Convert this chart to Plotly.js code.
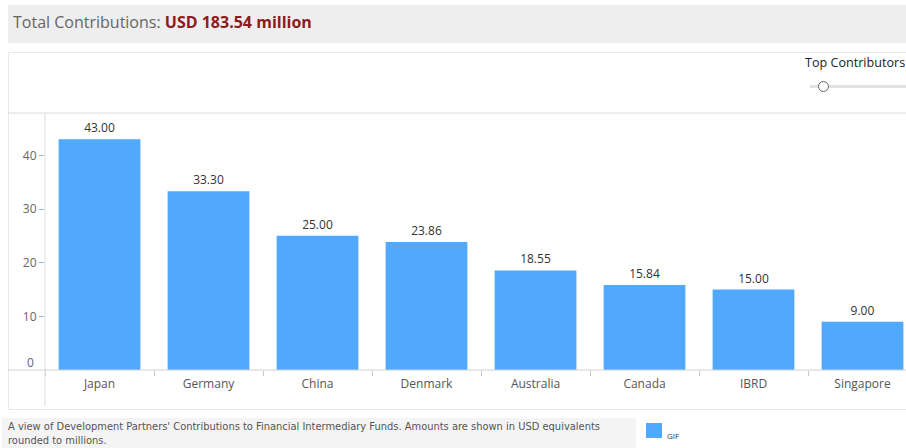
<!DOCTYPE html>
<html>
<head>
<meta charset="utf-8">
<script src="https://cdn.plot.ly/plotly-3.0.1.min.js"></script>
<style>
html,body{margin:0;padding:0;width:906px;height:448px;overflow:hidden;background:#fff;font-family:"Open Sans",sans-serif;}
#header{position:absolute;left:8px;top:5px;width:898px;height:38px;background:#eeeeee;}
#header span.t{position:absolute;left:5px;top:6px;font-size:16px;color:#666;white-space:nowrap;}
#header b{color:#8e1b1b;}
#panel{position:absolute;left:8px;top:52px;width:910px;height:358px;border:1px solid #e8e8e8;box-sizing:border-box;}
#chart{position:absolute;left:0;top:0;width:917px;height:448px;}
#slider-title{position:absolute;left:805px;top:54px;font-size:12.6px;color:#222;white-space:nowrap;}
#track{position:absolute;left:810px;top:85px;width:100px;height:3px;background:#e2e2e2;}
#knob{position:absolute;left:818px;top:81px;width:9px;height:9px;border:1.3px solid #666;border-radius:50%;background:#fff;}
#footer{position:absolute;left:2px;top:418px;width:634px;height:30px;background:#f4f4f4;}
#footer div{position:absolute;left:6px;top:2px;font-family:"Liberation Sans Narrow","DejaVu Sans Condensed",sans-serif;font-size:11px;line-height:14px;color:#555;width:640px;}
#legbox{position:absolute;left:646px;top:423px;width:16px;height:15px;background:#50a9fc;}
#legtxt{position:absolute;left:667px;top:430px;font-size:8px;color:#333;}
</style>
</head>
<body>
<div id="header"><span class="t">Total Contributions: <b>USD 183.54 million</b></span></div>
<div id="panel"></div>
<div id="chart"></div>
<div id="slider-title">Top Contributors</div>
<div id="track"></div>
<div id="knob"></div>
<div id="footer"><div>A view of Development Partners' Contributions to Financial Intermediary Funds. Amounts are shown in USD equivalents<br>rounded to millions.</div></div>
<div id="legbox"></div>
<div id="legtxt">GIF</div>
<script>
const contributors = ["Japan","Germany","China","Denmark","Australia","Canada","IBRD","Singapore"];
const amounts = [43.00, 33.30, 25.00, 23.86, 18.55, 15.84, 15.00, 9.00];
const yTicks = [10, 20, 30, 40];

const trace = {
  type: 'bar',
  x: contributors,
  y: amounts,
  marker: {color: '#50a9fc'},
  texttemplate: '%{y:.2f}',
  textposition: 'outside',
  cliponaxis: false,
  textfont: {family: 'Open Sans, sans-serif', size: 12, color: '#333'},
  hoverinfo: 'x+y',
  name: 'GIF'
};

const layout = {
  width: 917, height: 448,
  margin: {l: 45, r: 0, t: 113, b: 78, pad: 0},
  paper_bgcolor: 'rgba(0,0,0,0)',
  plot_bgcolor: 'rgba(0,0,0,0)',
  showlegend: false,
  bargap: 0.25,
  font: {family: 'Open Sans, sans-serif'},
  xaxis: {
    type: 'category',
    showgrid: false, zeroline: false, showline: false,
    ticks: 'outside', tickson: 'boundaries', ticklen: 5, tickcolor: '#c8c8c8',
    ticklabelstandoff: 5,
    tickfont: {size: 12, color: '#555'},
    fixedrange: true
  },
  yaxis: {
    range: [0, 47.9],
    tickvals: yTicks,
    ticktext: yTicks.map(String),
    showgrid: false, zeroline: false, showline: false,
    ticks: 'outside', ticklen: 5, tickcolor: '#86c5e6',
    tickfont: {size: 12, color: '#666'},
    fixedrange: true
  },
  annotations: [{
    xref: 'paper', yref: 'y', x: 0, y: 0, xanchor: 'right', yanchor: 'middle',
    xshift: -9, yshift: 8, text: '0', showarrow: false,
    font: {size: 12, color: '#666'}
  }],
  shapes: [
    {type: 'line', xref: 'paper', yref: 'paper', x0: -0.0425, x1: 1.05, y0: 1, y1: 1, line: {color: '#dcdcdc', width: 1}},
    {type: 'line', xref: 'paper', yref: 'paper', x0: -0.0425, x1: 1.05, y0: 0, y1: 0, line: {color: '#d0d0d0', width: 1}},
    {type: 'line', xref: 'paper', yref: 'paper', x0: 0, x1: 0, y0: 1, y1: -0.14, line: {color: '#dcdcdc', width: 1}}
  ]
};

Plotly.newPlot('chart', [trace], layout, {displayModeBar: false, staticPlot: true});
</script>
</body>
</html>
